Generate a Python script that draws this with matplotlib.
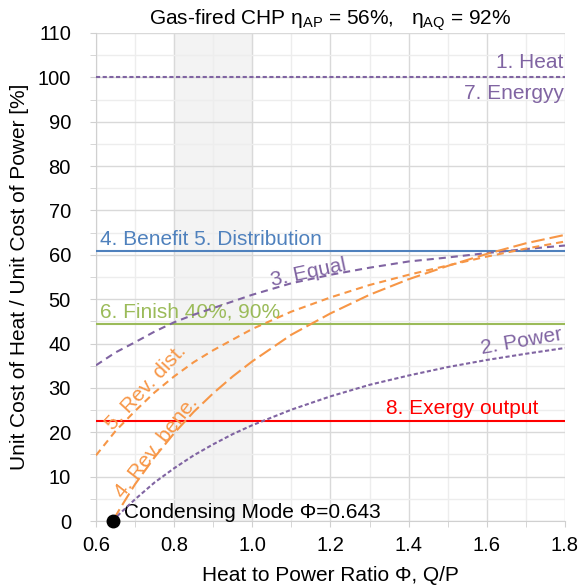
import matplotlib
matplotlib.use("Agg")
import matplotlib.pyplot as plt
from matplotlib.ticker import MultipleLocator

plt.rcParams['font.family'] = ['Liberation Sans', 'DejaVu Sans']
plt.rcParams['mathtext.fontset'] = 'custom'
plt.rcParams['mathtext.rm'] = 'Liberation Sans'
plt.rcParams['mathtext.it'] = 'Liberation Sans'
plt.rcParams['mathtext.default'] = 'regular'

# ---- data ----
phi = [0.6, 0.65, 0.7, 0.75, 0.8, 0.85, 0.9, 1.0, 1.1, 1.2, 1.3, 1.4, 1.5, 1.6, 1.7, 1.8]
phi_c = [0.643, 0.66, 0.7, 0.75, 0.8, 0.85, 0.9, 0.95, 1.0, 1.1, 1.2, 1.3, 1.4, 1.5, 1.6, 1.7, 1.8]

equal = [35.1, 38.0, 40.3, 42.7, 44.8, 46.5, 48.0, 51.0, 53.6, 55.5, 57.1, 58.5, 59.4, 60.4, 61.3, 62.1]
rev_dist = [14.8, 20.3, 24.8, 29.0, 32.6, 35.8, 38.5, 43.3, 47.2, 50.4, 53.2, 55.5, 57.6, 59.6, 61.4, 63.0]
rev_bene = [0.0, 2.6, 8.3, 14.4, 19.8, 24.6, 28.8, 32.6, 36.0, 42.0, 46.8, 51.0, 54.5, 57.5, 60.2, 62.6, 64.5]
power = [0.0, 1.6, 4.9, 8.7, 11.9, 14.8, 17.3, 19.6, 21.6, 25.1, 28.1, 30.7, 32.8, 34.7, 36.3, 37.7, 39.0]

heat_level = 100.0
benefit_level = 60.8
finish_level = 44.3
exergy_level = 22.6
cond_phi = 0.643
shade_range = (0.8, 1.0)

purple = '#8064A2'
orange = '#F79646'
blue = '#4F81BD'
green = '#9BBB59'
red = '#FF0000'

fig = plt.figure(figsize=(5.79, 5.87), dpi=100)
ax = fig.add_axes([0.1658, 0.1124, 0.81, 0.8314])
ax.set_xlim(0.6, 1.8)
ax.set_ylim(0, 110)

ax.axvspan(*shade_range, color='#F3F3F3', zorder=0)

ax.xaxis.set_major_locator(MultipleLocator(0.2))
ax.xaxis.set_minor_locator(MultipleLocator(0.1))
ax.yaxis.set_major_locator(MultipleLocator(10))
ax.yaxis.set_minor_locator(MultipleLocator(5))
ax.grid(which='major', color='#D9D9D9', lw=1.0, zorder=1)
ax.grid(which='minor', color='#EDEDED', lw=1.0, zorder=1)
ax.set_axisbelow(True)
for s in ['top', 'right']:
    ax.spines[s].set_visible(False)
for s in ['left', 'bottom']:
    ax.spines[s].set_color('#D0D0D0')
ax.tick_params(which='both', color='#D0D0D0', labelsize=14.5, length=4)
ax.tick_params(axis='y', pad=14)
ax.tick_params(axis='x', pad=7)
ax.set_xticks([0.6, 0.8, 1.0, 1.2, 1.4, 1.6, 1.8])
ax.set_xticklabels(['0.6', '0.8', '1.0', '1.2', '1.4', '1.6', '1.8'])

lw = 1.5
ax.axhline(heat_level, color=purple, lw=lw, dashes=(2, 1.2), zorder=3)
ax.axhline(benefit_level, color=blue, lw=lw, zorder=3)
ax.axhline(finish_level, color=green, lw=lw, zorder=3)
ax.axhline(exergy_level, color=red, lw=lw, zorder=3)

ax.plot(phi, equal, color=purple, lw=lw, dashes=(3.4, 2.4), zorder=4)
ax.plot(phi, rev_dist, color=orange, lw=lw, dashes=(3.4, 2.4), zorder=4)
ax.plot(phi_c, rev_bene, color=orange, lw=lw, dashes=(6.5, 2.4), zorder=4)
ax.plot(phi_c, power, color=purple, lw=lw, dashes=(2, 1.2), zorder=4)

ax.plot([cond_phi], [0], 'o', color='black', ms=9, zorder=6, clip_on=False)

fs = 15
ax.text(1.797, 101.3, '1. Heat', color=purple, fontsize=fs, ha='right', va='bottom')
ax.text(1.797, 98.6, '7. Energyy', color=purple, fontsize=fs, ha='right', va='top')
ax.text(0.61, 61.4, '4. Benefit 5. Distribution', color=blue, fontsize=fs, ha='left', va='bottom')
ax.text(0.61, 44.9, '6. Finish 40%, 90%', color=green, fontsize=fs, ha='left', va='bottom')
ax.text(1.536, 23.2, '8. Exergy output', color=red, fontsize=fs, ha='center', va='bottom')
ax.text(1.145, 56.0, '3. Equal', color=purple, fontsize=fs, ha='center', va='center', rotation=12)
ax.text(1.69, 40.5, '2. Power', color=purple, fontsize=fs, ha='center', va='center', rotation=10)
ax.text(0.728, 30.0, '5. Rev. dist.', color=orange, fontsize=fs, ha='center', va='center', rotation=47)
ax.text(0.755, 16.7, '4. Rev. bene.', color=orange, fontsize=fs, ha='center', va='center', rotation=52)
ax.text(0.672, 2.0, 'Condensing Mode Φ=0.643', color='black', fontsize=fs, ha='left', va='center')

ax.set_xlabel('Heat to Power Ratio Φ, Q/P', fontsize=fs, labelpad=8)
ax.set_ylabel('Unit Cost of Heat / Unit Cost of Power [%]', fontsize=fs, labelpad=6)
ax.set_title('Gas-fired CHP η$_{AP}$ = 56%,   η$_{AQ}$ = 92%', fontsize=fs, pad=6)

fig.savefig('out.png', dpi=100)
